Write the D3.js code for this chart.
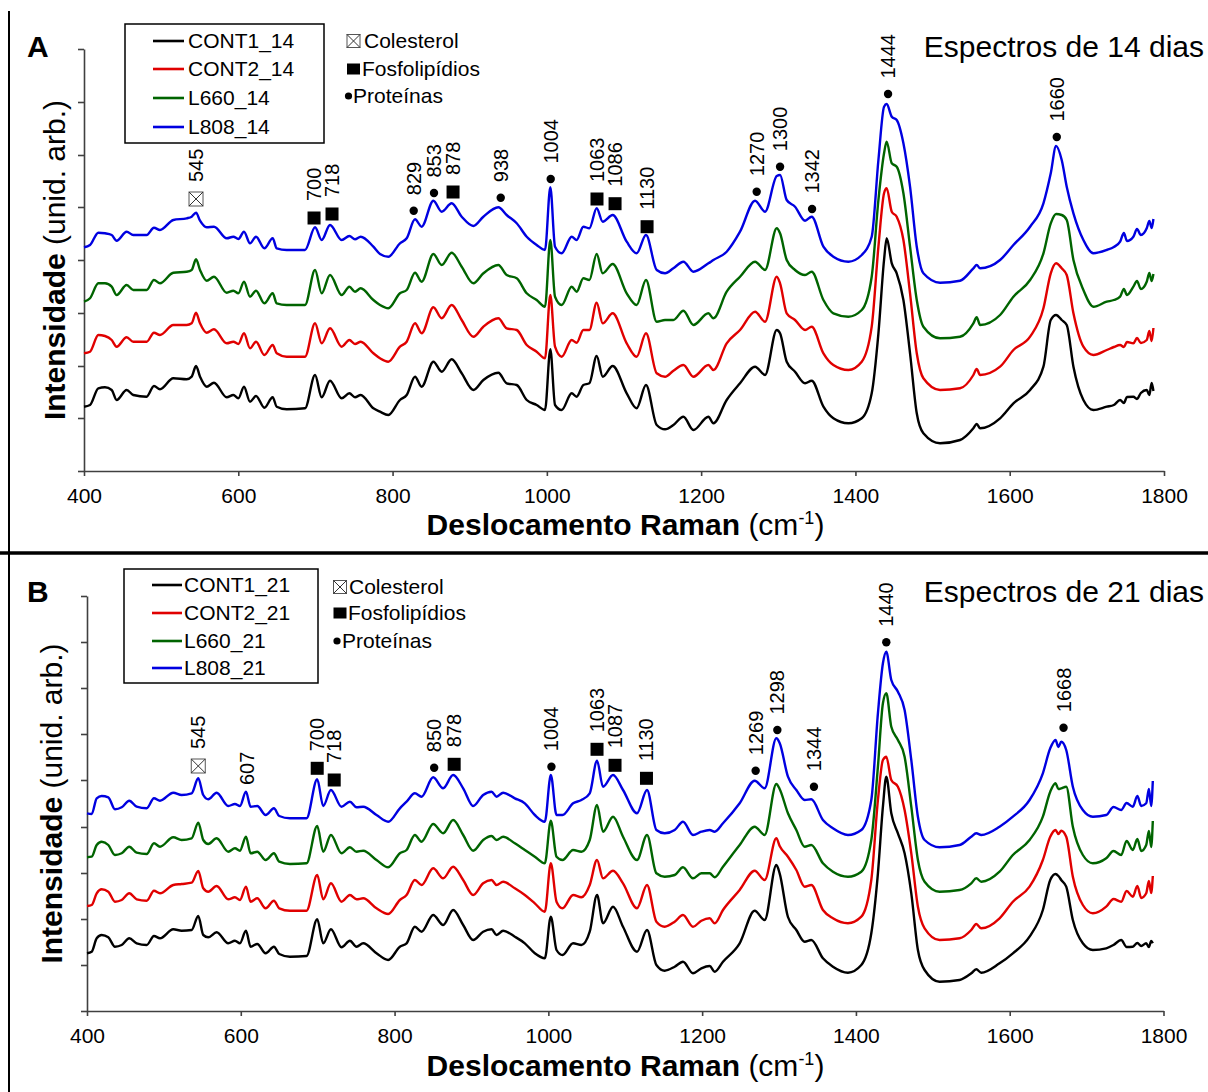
<!DOCTYPE html>
<html><head><meta charset="utf-8">
<script src="https://cdn.jsdelivr.net/npm/d3@7"></script>
<style>body{margin:0;background:#fff}svg{display:block}</style>
</head><body><svg id="c" width="1208" height="1092"></svg>
<script>
// ---------------- DATA ----------------
const xTickValues = [400, 600, 800, 1000, 1200, 1400, 1600, 1800];
const yTicksA = [0, 53, 105, 158, 211, 264, 316, 369, 422];
const yTicksB = [0, 46, 92, 138, 184, 231, 277, 323, 369, 415];

const seriesNamesA = ["CONT1_14", "CONT2_14", "L660_14", "L808_14"];
const seriesNamesB = ["CONT1_21", "CONT2_21", "L660_21", "L808_21"];
const keyLabels = ["Colesterol", "Fosfolipídios", "Proteínas"];
const keyTypes = ["chol", "phos", "prot"];
const titleA = "Espectros de 14 dias";
const titleB = "Espectros de 21 dias";

const wavenumbersA = [400,407.8,418.6,427.2,435.9,442.3,455.3,463.9,481.2,490.7,498.5,515.8,533.1,539.6,545.2,550.4,559,568.5,585,593.6,600.1,607.4,615.2,623,633.8,644.6,649.8,662.7,686.5,699.5,708.1,718.9,734,744,751.3,758.7,775.1,783.7,794.5,809.6,818.3,829.1,837.7,852.9,863.7,876.6,889.6,904.7,917.7,937.1,947.9,960.9,973.9,986.8,997.6,1004.5,1010.6,1019.2,1032.2,1038.6,1047.3,1055.1,1064.6,1072.4,1085.3,1103.5,1116.4,1128.5,1142.4,1153.2,1164,1177,1189.9,1209.4,1215.9,1233.1,1250.4,1269.9,1282.8,1298,1302.3,1310.9,1321.7,1334.7,1343.3,1358.5,1371.4,1390.9,1408.2,1421.1,1429.8,1437.1,1440.5,1447.1,1453.5,1462.2,1470.8,1479.5,1488.1,1509.7,1535.6,1552.9,1557.2,1561.6,1587.5,1604.8,1626.4,1643.7,1653.2,1660.1,1667.4,1673.9,1682.6,1695.5,1708.5,1725.8,1735,1743.1,1748,1752,1760.3,1765,1770,1777.6,1781,1784,1786.3];

const cont1A = [64.3,66,82.7,83.7,81,71,81,76,74.3,85,81.7,92.7,91.7,94.3,105,94.3,84.3,88.3,73.7,76,72.7,84.3,69.3,75,63.3,73.7,64.3,61.7,62.7,96,73.7,90.3,72.7,77.7,73.7,76,62.7,59.3,56,71,76,94.3,84.3,109.3,99.3,111.7,97.7,81,91,98.3,87.7,86,71,66,61,121.7,66,61,77.7,74.3,86,87.7,115,94.3,105,77.7,62.7,86,46,41.7,46,54.3,41,54.3,47.7,71,87.7,104.3,96,141,137.7,109.3,99.3,87.7,90.3,64.3,52.7,47.7,52.7,77.7,137.7,211,232.7,207.7,197.7,171,117.7,57.7,37.7,27.7,31,42.7,47,42.7,52.7,67.7,81,104.3,151,156,151,146,104.3,71,61,64.3,66,71,68,74,74.3,72,78,81,76,88,80];
const cont2A = [117.7,119.3,136,135,131,124.3,133.7,129.3,129.3,138.3,136,146,146,147.7,158.3,147.7,138.3,141.7,127.7,129.3,127,137.7,122.7,129.3,116,126,117.7,114.3,114.3,147.7,127.7,142.7,124.3,131,127,129.3,117.7,112.7,109.3,124.3,129.3,147.7,137.7,163.7,152.7,166,151,134.3,144.3,152.7,142.7,141,126,119.3,112.7,176,124.3,114.3,131,128.3,141,141,168.3,147.7,157.7,127.7,114.3,137.7,97.7,94.3,100.3,106,94.3,106,101,127.7,141,159.3,149.3,194.3,187.7,157.7,151,141,144.3,117.7,106,101,109.3,144.3,224.3,277.7,282.7,259.3,254.3,231,177.7,117.7,92.7,81,82.7,96,102,96,104.3,121,134.3,162.7,197.7,207.7,202.7,196,157.7,124.3,116,121,124,126,124,129,127.7,133,128,131,140,130,143];
const l660A = [169.3,172.7,187.7,187.7,184.3,176,186,181,181,191,187.7,198.3,199.3,201,211.7,201,190.3,194.3,178.3,180.3,177.7,189.3,174.3,180.3,167.7,177.7,167.7,166,166,201,177.7,196,176,184.3,179.3,182.7,171,166,162.7,177.7,181,198.3,189.3,217,206,218.3,204.3,187.7,197.7,206,196,192.7,177.7,171,164.3,231,174.3,166,184.3,179.3,192.7,191,217,197.7,207,177.7,166,191,149.3,151,151,160.3,146,157.7,152.7,179.3,194.3,209.3,201,242.7,237.7,211,201,196,199.3,171,157.7,154.3,161,194.3,271,317.7,329.3,307.7,304.3,277.7,224.3,171,144.3,132.7,134.3,147.7,153.7,146,156,174.3,191,217.7,247.7,257,256,251,211,181,164.3,169.3,171,174.3,182,176,184.3,190,182,189.3,198,190,197];
const l808A = [223.7,226,238.3,237.7,236,230.3,239.3,236,236,243.3,241,251,252.7,254.3,258.3,250.3,243.7,244.3,232.7,234.3,232,239.3,227.7,234.3,222.7,232.7,222.7,221,221,243.7,231,246,231,235,231.7,234.3,224.3,217,214.3,227.7,232.7,251.7,244.3,270.3,259.3,267.7,254.3,245,254.3,263.7,256,247.7,234.3,226,221,283.7,224.3,217.7,234.3,231,244.3,242.7,262.7,249.3,256,229.3,217.7,236,201,197.7,202.7,209.3,199.3,207.7,211,219.3,239.3,270.3,259.3,295,296,271,264.3,250.3,254.3,224.3,214.3,209.3,216,234.3,311,364.3,367,354.3,351,327.7,284.3,224.3,197.7,188.3,190.3,202.7,206,202.7,211,226,244.3,267.7,297.7,325,311,284.3,257.7,231,217.7,221,224,229.3,238,230,234.3,242,236,242.7,250,243,252];

const wavenumbersB = [400,406.1,412.6,419.1,427.7,436.4,445.1,455,464.6,477.6,487.1,494.9,512.2,523.1,536.1,544.7,551.2,557.7,568.6,583.7,592.4,598.9,606.7,612.8,621.4,632.3,643.1,650,663.9,685.5,699.4,707.2,717.2,731,741.9,750.5,759.2,776.5,791.7,806.9,815.6,826.4,835.1,850.2,863.2,876.2,889.2,902.2,915.2,926.1,932.6,941.2,956.4,969.4,982.4,995.4,1003.2,1010.6,1018.4,1032.2,1043,1053.8,1063.3,1071.1,1084.1,1097.1,1115.3,1128.3,1140.5,1151.3,1164.3,1175.1,1188.1,1199,1209.8,1216.3,1227.1,1248.8,1268.3,1281.3,1296.5,1300.8,1311.6,1322.5,1333.3,1342,1357.1,1370.1,1389.6,1407,1420,1428.6,1435.1,1439.5,1446,1454.6,1463.3,1472,1480.6,1489.3,1508.8,1534.8,1550,1556.5,1563,1586.8,1604.1,1625.8,1643.1,1652.7,1659.6,1663.3,1667,1673.5,1682.1,1695.1,1708.1,1725.5,1735,1745,1752,1760.1,1766,1771,1777.5,1781,1784,1786.1];

const cont1B = [57.7,59.3,72.7,76,73.7,64.3,66,72.7,67.7,66,75,72.7,81.7,80.3,81,95,76,73.7,78.7,67.7,70.3,67.7,80.3,64.3,67,57.7,64.3,57,54.3,55,91.7,67.7,81.7,63.7,70.3,64.3,67.7,57.7,51,64.3,67.7,84.3,79.3,96,86,101,86,71,79.3,81.7,76,80.3,74.3,67.7,57.7,52.7,94.3,61,56,67.7,66,79.3,116,87.7,104.3,84.3,59.3,81,46,40.3,44.3,49.3,37.7,42.7,45,39.3,49.3,67.7,100.3,91,146,137.7,94,81,69.3,71,52.7,44.3,38.3,46,77.7,137.7,204.3,234.3,197.7,177.7,157.7,117.7,61,41,29.3,31,37.7,41.7,38.3,47.7,57.7,74.3,101,131,137,135,131,124.3,91,67.7,61,62.7,66,71,64,64.3,68,65,67.7,64,70,67.7];
const cont2B = [105,106,117.7,121.7,119.3,109.3,111,117.7,111.7,110.3,120.3,117.7,126,127,128.3,140,122.7,119.3,125,111.7,113.7,111,124.3,109.3,112.7,102.7,110.3,102.7,100.3,100.3,136,111.7,127.7,109.3,116,111.7,112.7,102.7,97,111,116,131,126,142.7,132.7,144.3,131,116,127.7,131,126,129.3,122.7,116,107.7,99.3,147.7,109.3,102.7,116,113.7,126,151,132.7,140.3,127.7,102.7,126,89.3,84.3,89.3,96,84.3,90.3,92.7,87.7,101,121,140.3,131,172.7,165,154.3,141,124.3,126,101,92.7,87.7,94.3,131,211,251,254.3,231,224.3,201,157.7,104.3,82.7,71,72.7,81,87,82.7,92.7,109.3,124.3,151,174.3,181,177,180.3,174.3,134.3,106,97.7,104.3,112,109.3,120,114.3,125,113,117.7,130,118,135];
const l660B = [153.7,154.3,166,169.3,166,156,157.7,164.3,158.3,157,167.7,164.3,173.7,171,172.7,188.3,171,167,172.7,159.3,162.7,160.3,174.3,157.7,159.3,151,157.7,149.3,147,147.7,185,159.3,176,157.7,163.7,159.3,160.3,151,143.7,157.7,161,176,169.3,187,177.7,191,176,160.3,171,175,171,174.3,167.7,161,154.3,147.7,190.3,154.3,151,161,159.3,171,206,179.3,194.3,174.3,151,176,137.7,134.3,136,143.7,132.7,137.7,137.7,133.7,144.3,166,184.3,176,227,222,197.7,181,164.3,166,147.7,139.3,134.3,139.3,171,244.3,307.7,317.7,284.3,271,254.3,204.3,151,129.3,119.3,121,127.7,132.7,129.3,139.3,156,171,194.3,219.3,227.7,222,222.7,224.3,184.3,156,147.7,152.7,160,156,170,161,172,160,166,180,164,190];
const l808B = [197.7,197,212.7,215,213.7,201.7,203.7,210.3,204.3,202.7,212.7,210.3,218.3,216,217.7,232.7,216,211.7,218.3,205,207,205,219.3,204.3,205,196,202.7,195,192.7,192.7,231.7,205,221,204.3,209.3,203.7,204.3,196,189.3,202.7,209.3,217.7,214.3,233.7,222.7,236,222.7,205,216,219.3,214.3,218.3,212.7,207.7,196,189.3,236,196,196,207.7,211,217.7,250.3,224.3,236,221,197.7,221,181,177.7,181,189.3,176,179.3,181,179.3,187.7,207.7,230.3,222.7,272.7,268,234.3,221,211,211.7,191,182.7,176,181,211,297.7,347.7,359.3,331,319.3,301,251,194.3,171,163.7,166,174.3,177.7,176,184.3,194.3,211,237.7,262.7,271,264,269.3,261,224.3,201,194.3,196,204,201,208,204.3,215,205,207.7,222,205,230];

// peak annotations: label, wavenumber of the marker, intensity level of the marker, group
const annotationLabelsA = ["545","700","718","829","853","878","938","1004","1063","1086","1130","1270","1300","1342","1444","1660"];
const annotationPosA    = [545.2,698.2,721.5,827.4,853.7,878.4,940.2,1005,1065,1088.4,1129.9,1272,1302.3,1343.8,1442.3,1661];
const annotationLevelA  = [272,253,257,260.3,278,279,273.3,292,272,267.3,244.3,279.3,304.3,262,377,334];
const annotationTypeA   = ["chol","phos","phos","prot","prot","phos","prot","prot","phos","phos","phos","prot","prot","prot","prot","prot"];

const annotationLabelsB = ["545","607","700","718","850","878","1004","1063","1087","1130","1269","1298","1344","1440","1668"];
const annotationPosB    = [544.7,607.6,699.4,721.5,851.5,877.5,1004,1063.3,1086.7,1127.6,1269.6,1297.8,1345.4,1439.5,1670];
const annotationLevelB  = [245,210,242.7,231,243.3,246.7,244.3,261.7,245.7,232.7,240.3,281,224.3,368.7,283.3];
const annotationTypeB   = ["chol","none","phos","phos","prot","phos","prot","phos","phos","phos","prot","prot","prot","prot","prot"];

// ---------------- STYLE ----------------
const FONT = '"Liberation Sans", Arial, Helvetica, sans-serif';
const AXIS_COLOR = "#404040";
const seriesColors = ["#000000", "#e00000", "#006400", "#0000e0"];
const markerGap = {prot: 15.5, phos: 17, chol: 17, none: 16};

const svg = d3.select("#c").attr("font-family", FONT);
svg.append("rect").attr("width", 1208).attr("height", 1092).attr("fill", "#fff");

// figure frame
svg.append("line").attr("x1", 9).attr("x2", 9).attr("y1", 11).attr("y2", 1092).attr("stroke", "#000").attr("stroke-width", 2);
svg.append("line").attr("x1", 0).attr("x2", 1208).attr("y1", 553).attr("y2", 553).attr("stroke", "#000").attr("stroke-width", 3.5);

function drawMarker(g, type, cx, cy, s) {
  if (type === "phos") {
    g.append("rect").attr("x", cx - s.sq / 2).attr("y", cy - s.sqh / 2).attr("width", s.sq).attr("height", s.sqh).attr("fill", "#000");
  } else if (type === "prot") {
    g.append("circle").attr("cx", cx).attr("cy", cy).attr("r", s.r).attr("fill", "#000");
  } else if (type === "chol") {
    const h = s.box / 2;
    g.append("rect").attr("x", cx - h).attr("y", cy - h).attr("width", s.box).attr("height", s.box)
      .attr("fill", "#fff").attr("stroke", "#555").attr("stroke-width", 1);
    g.append("path").attr("d", `M${cx - h},${cy - h}L${cx + h},${cy + h}M${cx + h},${cy - h}L${cx - h},${cy + h}`)
      .attr("stroke", "#333").attr("stroke-width", 1);
  }
}

function drawPanel(cfg) {
  const g = svg.append("g");
  const x = d3.scaleLinear().domain([400, 1800]).range([cfg.left, cfg.right]);
  const y = d3.scaleLinear().domain([0, cfg.yTicks[cfg.yTicks.length - 1]]).range([cfg.bottom, cfg.top]);

  // axes
  const gx = g.append("g").attr("transform", `translate(0,${cfg.bottom})`)
    .call(d3.axisBottom(x).tickValues(xTickValues).tickSize(5).tickSizeOuter(0).tickPadding(12).tickFormat(d3.format("d")));
  gx.selectAll("text").attr("font-size", 21).attr("font-family", FONT).attr("fill", "#000");
  gx.selectAll("line,path").attr("stroke", AXIS_COLOR).attr("stroke-width", 1.6);
  const gy = g.append("g").attr("transform", `translate(${cfg.left},0)`)
    .call(d3.axisLeft(y).tickValues(cfg.yTicks).tickSize(6).tickSizeOuter(0).tickFormat(""));
  gy.selectAll("line,path").attr("stroke", AXIS_COLOR).attr("stroke-width", 1.6);

  // spectra
  const line = d3.line().x(d => x(d[0])).y(d => y(d[1])).curve(d3.curveMonotoneX);
  cfg.series.forEach((vals, i) => {
    const pts = cfg.wavenumbers.map((w, j) => [w, vals[j]]);
    g.append("path").attr("d", line(pts)).attr("fill", "none")
      .attr("stroke", seriesColors[i]).attr("stroke-width", 2.4).attr("stroke-linejoin", "round");
  });

  // peak annotations
  const ms = {sq: 13, sqh: 13, r: 4.2, box: 14};
  cfg.annLabels.forEach((lab, i) => {
    const cx = x(cfg.annPos[i]);
    const cy = y(cfg.annLevel[i]);
    const t = cfg.annType[i];
    drawMarker(g, t, cx, cy, ms);
    g.append("text").attr("transform", `translate(${cx},${cy - markerGap[t]}) rotate(-90)`)
      .attr("dy", "0.35em").attr("font-size", 20).attr("fill", "#000").text(lab);
  });

  // axis titles
  const yt = g.append("text").attr("transform", `translate(${cfg.yTitleX},${(cfg.top + cfg.bottom) / 2}) rotate(-90)`)
    .attr("text-anchor", "middle").attr("font-size", 30).attr("fill", "#000");
  yt.append("tspan").attr("font-weight", "bold").text("Intensidade");
  yt.append("tspan").text(" (unid. arb.)");

  const xt = g.append("text").attr("x", 625.5).attr("y", cfg.xTitleY).attr("text-anchor", "middle").attr("font-size", 30).attr("fill", "#000");
  xt.append("tspan").attr("font-weight", "bold").text("Deslocamento Raman");
  xt.append("tspan").text(" (cm");
  xt.append("tspan").attr("font-size", 18).attr("dy", -11).text("-1");
  xt.append("tspan").attr("dy", 11).text(")");

  // panel letter and title
  g.append("text").attr("x", 27).attr("y", cfg.letterY).attr("font-size", 30).attr("font-weight", "bold").text(cfg.letter);
  g.append("text").attr("x", 1204).attr("y", cfg.letterY).attr("text-anchor", "end").attr("font-size", 30).text(cfg.title);

  // series legend
  const L = cfg.legend;
  g.append("rect").attr("x", L.x).attr("y", L.y).attr("width", L.w).attr("height", L.h)
    .attr("fill", "#fff").attr("stroke", "#000").attr("stroke-width", 1.5);
  cfg.names.forEach((n, i) => {
    const ry = L.rows[i];
    g.append("line").attr("x1", L.lx1).attr("x2", L.lx2).attr("y1", ry).attr("y2", ry)
      .attr("stroke", seriesColors[i]).attr("stroke-width", 2.6);
    g.append("text").attr("x", L.tx).attr("y", ry).attr("dy", "0.35em").attr("font-size", 21).text(n);
  });

  // marker key
  const K = cfg.key;
  keyLabels.forEach((lab, i) => {
    const ky = K.rows[i];
    drawMarker(g, keyTypes[i], K.mx[i], ky, {sq: 13, sqh: 11, r: 3.6, box: 13});
    g.append("text").attr("x", K.tx[i]).attr("y", ky).attr("dy", "0.35em").attr("font-size", 21).text(lab);
  });
}

drawPanel({
  left: 84, right: 1164, top: 49, bottom: 471, yTicks: yTicksA,
  wavenumbers: wavenumbersA, series: [cont1A, cont2A, l660A, l808A], names: seriesNamesA,
  annLabels: annotationLabelsA, annPos: annotationPosA, annLevel: annotationLevelA, annType: annotationTypeA,
  yTitleX: 65, xTitleY: 535, letter: "A", letterY: 57, title: titleA,
  legend: {x: 125, y: 24, w: 199, h: 119, lx1: 153, lx2: 184, tx: 188, rows: [41, 69, 98, 127]},
  key: {rows: [41, 69, 96], mx: [353.5, 353.5, 348.5], tx: [364, 362, 353]}
});

drawPanel({
  left: 87, right: 1163.5, top: 596, bottom: 1011, yTicks: yTicksB,
  wavenumbers: wavenumbersB, series: [cont1B, cont2B, l660B, l808B], names: seriesNamesB,
  annLabels: annotationLabelsB, annPos: annotationPosB, annLevel: annotationLevelB, annType: annotationTypeB,
  yTitleX: 62, xTitleY: 1076, letter: "B", letterY: 602, title: titleB,
  legend: {x: 124, y: 569, w: 194, h: 114, lx1: 152, lx2: 182, tx: 184, rows: [585, 613, 641, 668]},
  key: {rows: [587, 613, 641], mx: [340, 340, 337], tx: [349, 348, 342]}
});
</script>
</body></html>
